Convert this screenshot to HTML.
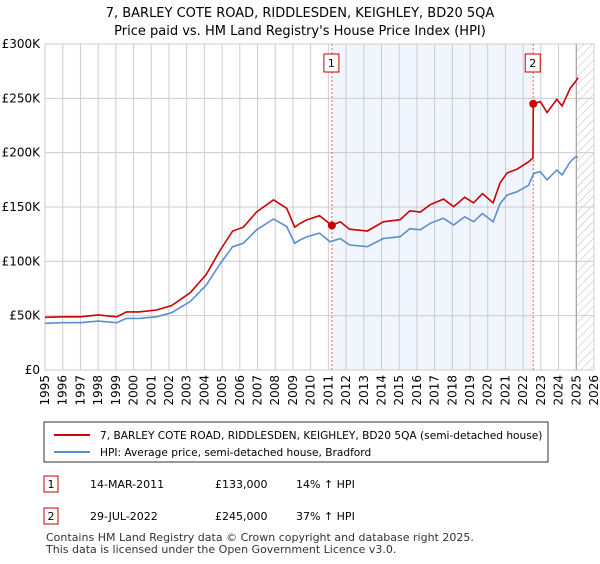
<!DOCTYPE html>
<html><head><meta charset="utf-8"><style>
body{margin:0;background:#fff;font-family:"DejaVu Sans","Liberation Sans",sans-serif;}
svg text{font-family:"DejaVu Sans","Liberation Sans",sans-serif;}
</style></head><body>
<svg id="chart" width="600" height="560" xmlns="http://www.w3.org/2000/svg">
<defs><pattern id="hatch" patternUnits="userSpaceOnUse" width="6" height="6" patternTransform="rotate(45)"><line x1="0" y1="0" x2="0" y2="6" stroke="#bbb" stroke-width="1"/></pattern></defs>
<text x="300" y="17" text-anchor="middle" font-size="13">7, BARLEY COTE ROAD, RIDDLESDEN, KEIGHLEY, BD20 5QA</text>
<text x="300" y="35" text-anchor="middle" font-size="13">Price paid vs. HM Land Registry's House Price Index (HPI)</text>
<g id="plot"></g>
<g>
<rect x="44" y="422" width="504" height="40" fill="#fff" stroke="#333"/>
<line x1="54" y1="435" x2="90" y2="435" stroke="#cc0000" stroke-width="2"/>
<text x="100" y="439" font-size="10.6">7, BARLEY COTE ROAD, RIDDLESDEN, KEIGHLEY, BD20 5QA (semi-detached house)</text>
<line x1="54" y1="452" x2="90" y2="452" stroke="#5b8fd0" stroke-width="2"/>
<text x="100" y="456" font-size="10.6">HPI: Average price, semi-detached house, Bradford</text>
</g>
<g font-size="11">
<rect x="44" y="476" width="14" height="16" fill="#fff" stroke="#cc0000"/>
<text x="51" y="488" text-anchor="middle">1</text>
<text x="90" y="488">14-MAR-2011</text><text x="215" y="488">£133,000</text><text x="296" y="488">14% ↑ HPI</text>
<rect x="44" y="508" width="14" height="16" fill="#fff" stroke="#cc0000"/>
<text x="51" y="520" text-anchor="middle">2</text>
<text x="90" y="520">29-JUL-2022</text><text x="215" y="520">£245,000</text><text x="296" y="520">37% ↑ HPI</text>
</g>
<text x="46" y="541" font-size="11" fill="#333">Contains HM Land Registry data © Crown copyright and database right 2025.</text>
<text x="46" y="553" font-size="11" fill="#333">This data is licensed under the Open Government Licence v3.0.</text>
</svg>
<script>
const hpiYears=[1995.0,1996.0,1997.0,1998.0,1999.05,1999.6,2000.3,2001.3,2002.15,2003.2,2004.1,2004.9,2005.6,2006.2,2006.95,2007.9,2008.65,2009.1,2009.4,2009.8,2010.5,2011.1,2011.67,2012.2,2013.2,2014.1,2015.05,2015.6,2016.2,2016.75,2017.5,2018.07,2018.7,2019.2,2019.7,2020.3,2020.7,2021.1,2021.65,2022.3,2022.6,2022.97,2023.35,2023.9,2024.2,2024.66,2024.94,2025.1];
const hpiValues=[43,43.5,43.5,45,43.5,47.5,47.5,49,52.7,63,78,98,113.5,116.6,129,139,132,116.6,119.6,122.7,126,118,121,115,113.5,121,122.7,130,129,135,139.6,133.4,141,136.5,144,136.5,153,161,164,170,181,182.5,175,184,179.5,191.7,196,196];
const priceYears=[1995.0,1996.0,1997.0,1998.0,1999.05,1999.6,2000.3,2001.3,2002.15,2003.2,2004.1,2004.9,2005.6,2006.2,2006.95,2007.9,2008.65,2009.1,2009.4,2009.8,2010.5,2011.2,2011.67,2012.2,2013.2,2014.1,2015.05,2015.6,2016.2,2016.75,2017.5,2018.07,2018.7,2019.2,2019.7,2020.3,2020.7,2021.1,2021.65,2022.3,2022.55,2022.57,2022.97,2023.35,2023.9,2024.2,2024.66,2024.94,2025.1];
const priceValues=[48.5,49,49,50.7,49,53.5,53.5,55.2,59.4,71,87.9,110.4,127.9,131.4,145.4,156.6,148.8,131.4,134.8,138.3,142,133,136.4,129.6,127.9,136.4,138.3,146.5,145.4,152.1,157.3,150.3,158.9,153.8,162.3,153.8,172.4,181.4,184.8,191.6,195,245,247,237,249,243,259.4,265,269];
const saleYears=[2011.2,2022.57];
const saleValues=[133,245];
const saleLabels=["1","2"];
const yTicks=[0,50,100,150,200,250,300];
const yTickLabels=["£0","£50K","£100K","£150K","£200K","£250K","£300K"];
const xTicks=[1995,1996,1997,1998,1999,2000,2001,2002,2003,2004,2005,2006,2007,2008,2009,2010,2011,2012,2013,2014,2015,2016,2017,2018,2019,2020,2021,2022,2023,2024,2025,2026];

const X0=45,X1=594,Y0=370,Y1=44;
const xs=y=>X0+(y-1995)/(2026-1995)*(X1-X0);
const ys=v=>Y0-v/300*(Y0-Y1);
const NS="http://www.w3.org/2000/svg";
const g=document.getElementById('plot');
function mk(t,a){const e=document.createElementNS(NS,t);for(const k in a)e.setAttribute(k,a[k]);g.appendChild(e);return e;}
let e;
e=mk('rect',{x:xs(saleYears[0]),y:Y1,width:xs(saleYears[1])-xs(saleYears[0]),height:Y0-Y1,fill:'#eef3fd',opacity:0.8});


e=mk('rect',{x:xs(2025),y:Y1,width:X1-xs(2025),height:Y0-Y1,fill:'url(#hatch)'});


xTicks.forEach(t=>{
 e=mk('line',{x1:xs(t),x2:xs(t),y1:Y1,y2:Y0,stroke:'#ccc'});
 
 
 e=mk('text',{x:0,y:0,transform:`translate(${xs(t)+4},375) rotate(-90)`,'text-anchor':'end','font-size':'12'});
 e.textContent=t;
 
 
});
yTicks.forEach((t,i)=>{
 e=mk('line',{x1:X0,x2:X1,y1:ys(t),y2:ys(t),stroke:'#ccc'});
 
 
 e=mk('text',{x:40,y:ys(t)+4,'text-anchor':'end','font-size':'12'});
 e.textContent=yTickLabels[i];
 
 
});
e=mk('line',{x1:xs(2025),x2:xs(2025),y1:Y1,y2:Y0,stroke:'#999'});


saleYears.forEach((s,i)=>{
 e=mk('line',{x1:xs(s),x2:xs(s),y1:Y1,y2:Y0,stroke:'#e06666','stroke-dasharray':'2,2'});
 
 
});
const path=(xa,va)=>xa.map((x,i)=>(i?'L':'M')+xs(x).toFixed(1)+','+ys(va[i]).toFixed(1)).join('');
e=mk('path',{d:path(hpiYears,hpiValues),fill:'none',stroke:'#5b8fd0','stroke-width':1.6});


e=mk('path',{d:path(priceYears,priceValues),fill:'none',stroke:'#cc0000','stroke-width':1.6});


saleYears.forEach((s,i)=>{
 e=mk('circle',{cx:xs(s),cy:ys(saleValues[i]),r:4,fill:'#cc0000'});
 
 
 e=mk('rect',{x:xs(s)-8,y:54,width:15,height:18,fill:'#fff',stroke:'#cc0000'});
 
 
 e=mk('text',{x:xs(s)-0.5,y:67,'text-anchor':'middle','font-size':'11'});
 e.textContent=saleLabels[i];
 
 
});
</script>
</body></html>
